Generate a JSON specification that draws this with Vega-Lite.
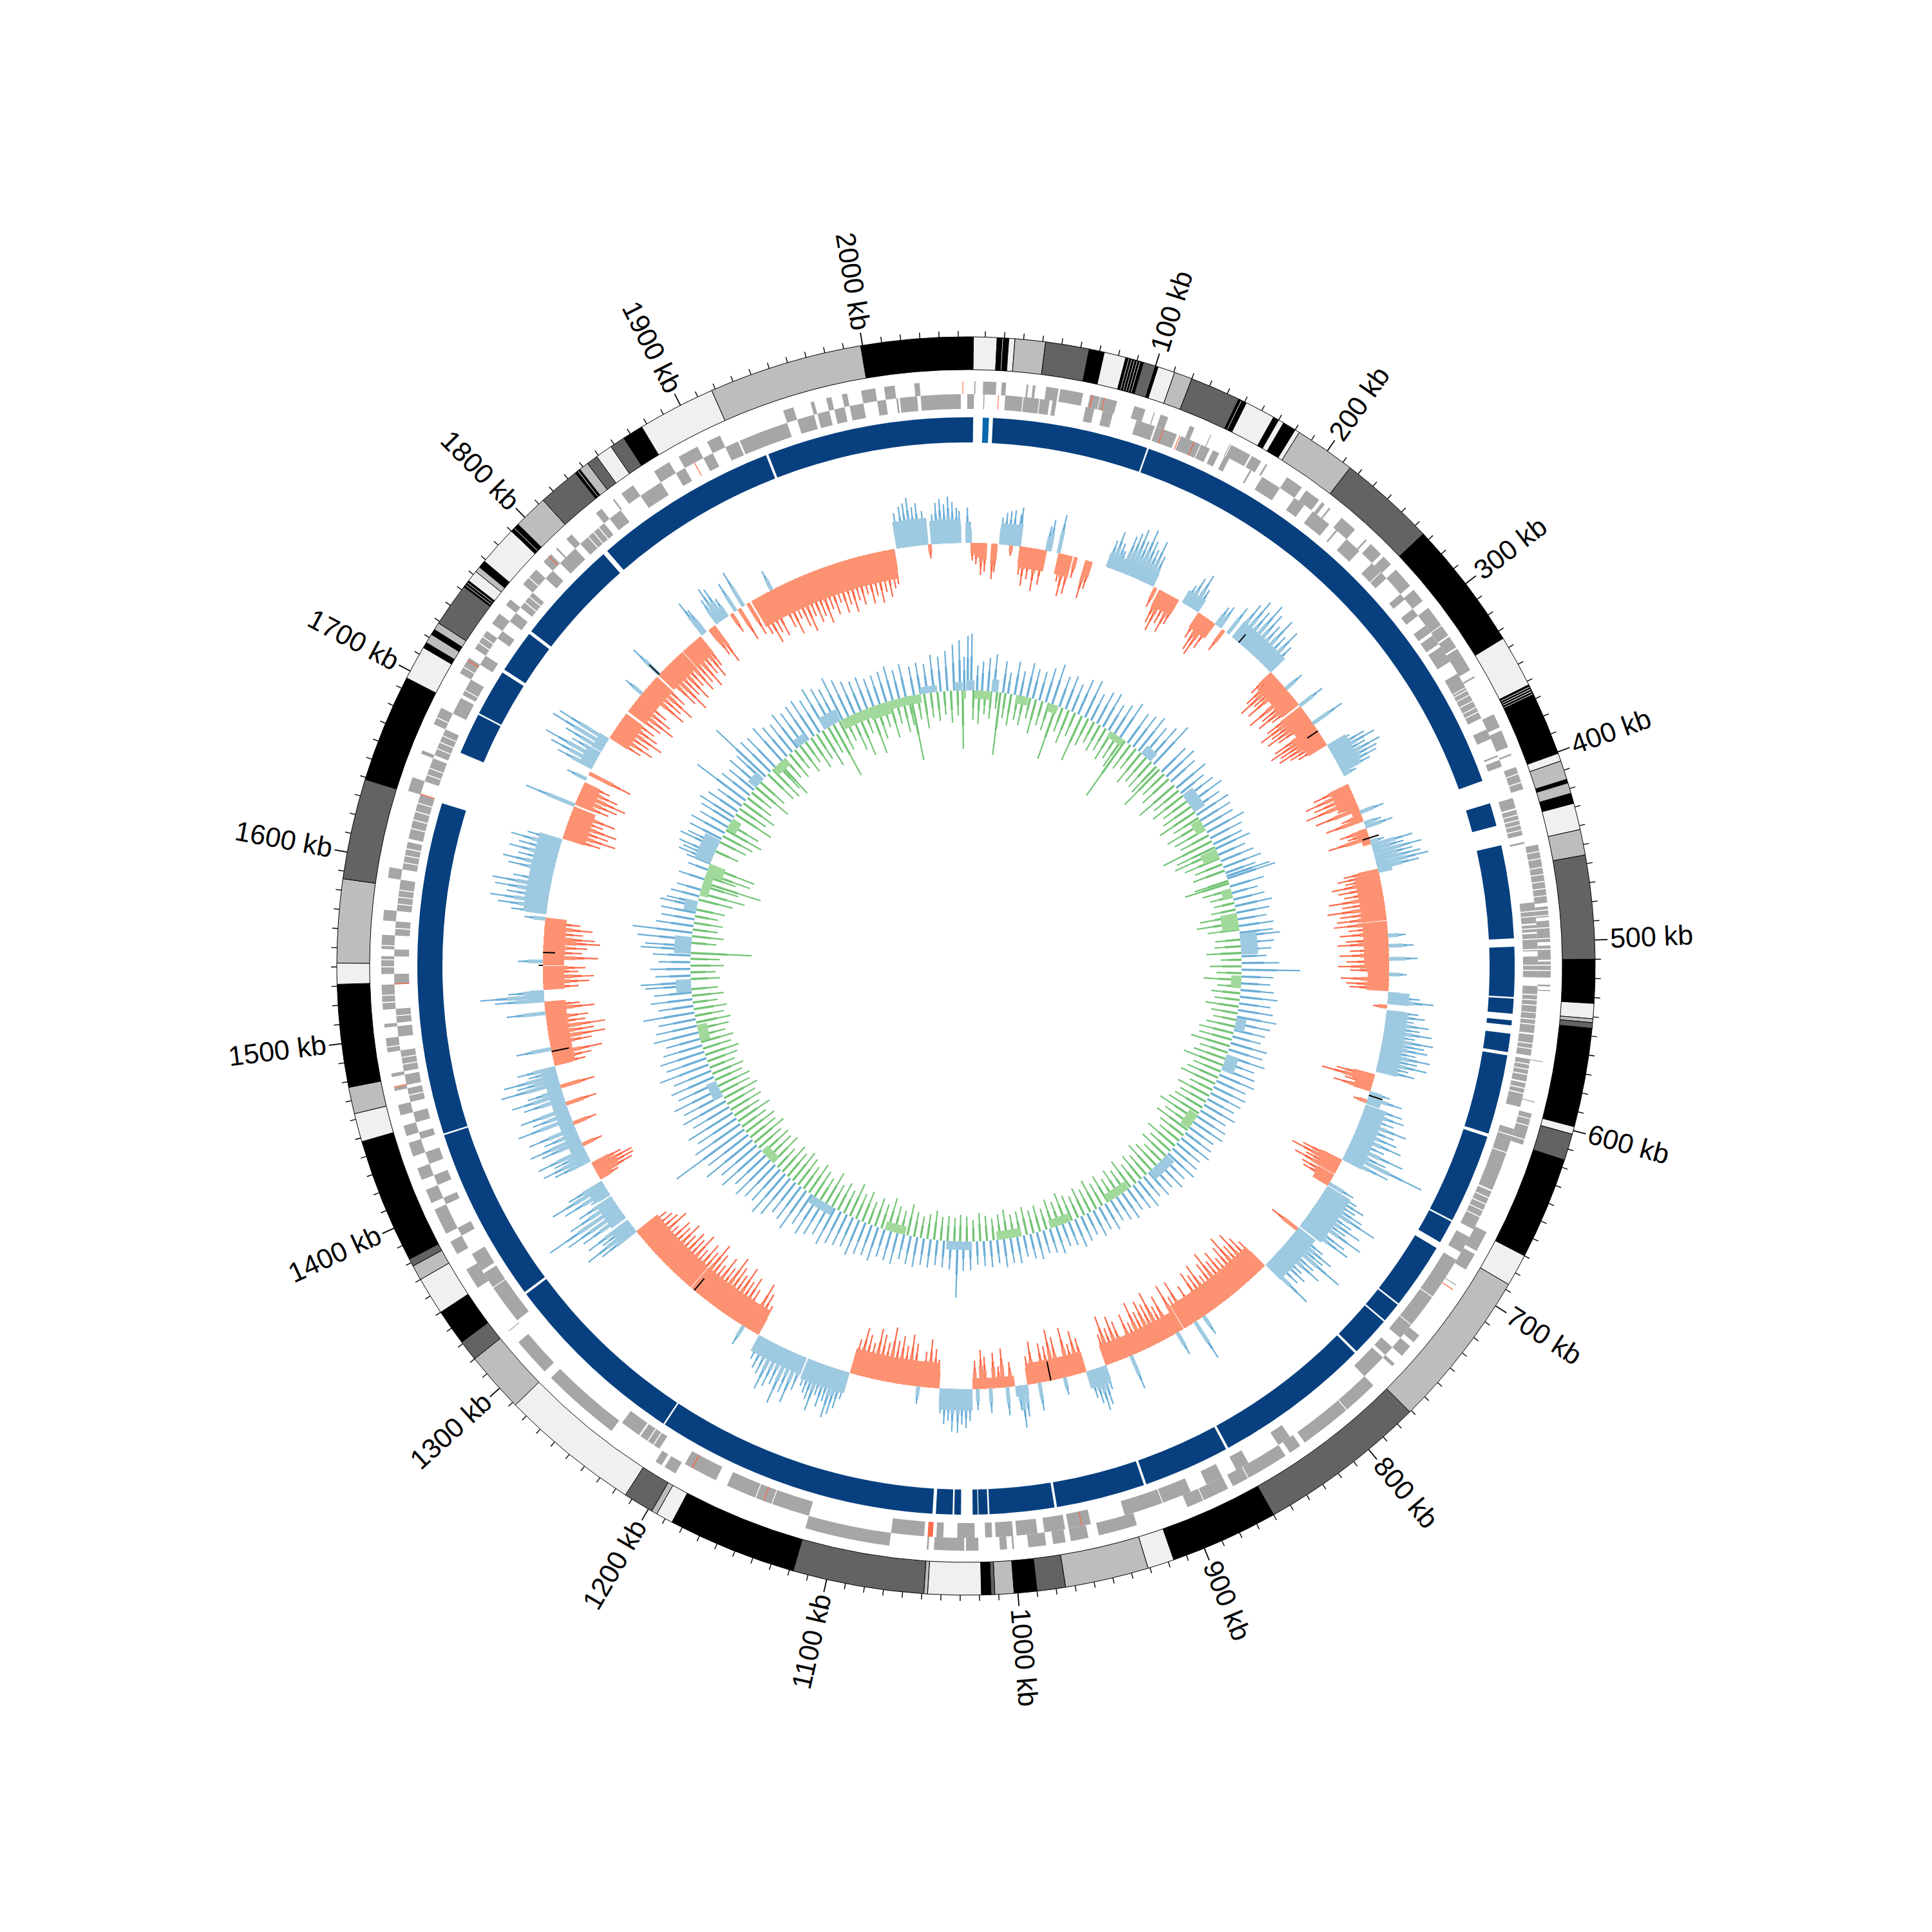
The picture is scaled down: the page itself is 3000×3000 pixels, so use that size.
{"$schema":"https://vega.github.io/schema/vega-lite/v6.json","width":3000,"height":3000,"autosize":{"type":"fit","contains":"padding"},"padding":0,"background":"white","config":{"view":{"stroke":null}},
"resolve":{"scale":{"radius":"independent","angle":"independent","color":"independent"}},
"datasets":{
"ticks":[10,20,30,40,50,60,70,80,90,110,120,130,140,150,160,170,180,190,210,220,230,240,250,260,270,280,290,310,320,330,340,350,360,370,380,390,410,420,430,440,450,460,470,480,490,510,520,530,540,550,560,570,580,590,610,620,630,640,650,660,670,680,690,710,720,730,740,750,760,770,780,790,810,820,830,840,850,860,870,880,890,910,920,930,940,950,960,970,980,990,1010,1020,1030,1040,1050,1060,1070,1080,1090,1110,1120,1130,1140,1150,1160,1170,1180,1190,1210,1220,1230,1240,1250,1260,1270,1280,1290,1310,1320,1330,1340,1350,1360,1370,1380,1390,1410,1420,1430,1440,1450,1460,1470,1480,1490,1510,1520,1530,1540,1550,1560,1570,1580,1590,1610,1620,1630,1640,1650,1660,1670,1680,1690,1710,1720,1730,1740,1750,1760,1770,1780,1790,1810,1820,1830,1840,1850,1860,1870,1880,1890,1910,1920,1930,1940,1950,1960,1970,1980,1990,2010,2020,2030,2040,2050],
"labels":[{"k":100,"t":"100 kb"},{"k":200,"t":"200 kb"},{"k":300,"t":"300 kb"},{"k":400,"t":"400 kb"},{"k":500,"t":"500 kb"},{"k":600,"t":"600 kb"},{"k":700,"t":"700 kb"},{"k":800,"t":"800 kb"},{"k":900,"t":"900 kb"},{"k":1000,"t":"1000 kb"},{"k":1100,"t":"1100 kb"},{"k":1200,"t":"1200 kb"},{"k":1300,"t":"1300 kb"},{"k":1400,"t":"1400 kb"},{"k":1500,"t":"1500 kb"},{"k":1600,"t":"1600 kb"},{"k":1700,"t":"1700 kb"},{"k":1800,"t":"1800 kb"},{"k":1900,"t":"1900 kb"},{"k":2000,"t":"2000 kb"}],
"band":[{"s":0,"e":3.9,"c":"k"},{"s":3.9,"e":16.2,"c":"l"},{"s":16.2,"e":22.3,"c":"k"},{"s":22.3,"e":25.5,"c":"l"},{"s":25.5,"e":41.5,"c":"g"},{"s":41.5,"e":64.5,"c":"d"},{"s":64.5,"e":72.5,"c":"k"},{"s":72.5,"e":84,"c":"l"},{"s":84,"e":93.5,"c":"k"},{"s":93.5,"e":100,"c":"d"},{"s":100,"e":101.5,"c":"k"},{"s":101.5,"e":110.5,"c":"l"},{"s":110.5,"e":120,"c":"g"},{"s":120,"e":146.6,"c":"d"},{"s":146.6,"e":151,"c":"k"},{"s":151,"e":167,"c":"l"},{"s":167,"e":170,"c":"k"},{"s":170,"e":173,"c":"l"},{"s":173,"e":180,"c":"k"},{"s":180,"e":182.5,"c":"l"},{"s":182.5,"e":214.7,"c":"g"},{"s":214.7,"e":266,"c":"d"},{"s":266,"e":334.5,"c":"k"},{"s":334.5,"e":362,"c":"l"},{"s":362,"e":368,"c":"k"},{"s":368,"e":400.8,"c":"k"},{"s":400.8,"e":405,"c":"l"},{"s":405,"e":415,"c":"g"},{"s":415,"e":417,"c":"k"},{"s":417,"e":422.6,"c":"g"},{"s":422.6,"e":428,"c":"k"},{"s":428,"e":442,"c":"l"},{"s":442,"e":455.5,"c":"g"},{"s":455.5,"e":510,"c":"d"},{"s":510,"e":533,"c":"k"},{"s":533,"e":541,"c":"l"},{"s":541,"e":543,"c":"g"},{"s":543,"e":546,"c":"d"},{"s":546,"e":598,"c":"k"},{"s":598,"e":602,"c":"l"},{"s":602,"e":616,"c":"d"},{"s":616,"e":670,"c":"k"},{"s":670,"e":687,"c":"l"},{"s":687,"e":771,"c":"g"},{"s":771,"e":860,"c":"d"},{"s":860,"e":917,"c":"k"},{"s":917,"e":931,"c":"l"},{"s":931,"e":975,"c":"g"},{"s":975,"e":990,"c":"d"},{"s":990,"e":1002,"c":"k"},{"s":1002,"e":1012,"c":"g"},{"s":1012,"e":1014,"c":"d"},{"s":1014,"e":1019,"c":"k"},{"s":1019,"e":1047,"c":"l"},{"s":1047,"e":1049,"c":"g"},{"s":1049,"e":1118,"c":"d"},{"s":1118,"e":1186,"c":"k"},{"s":1186,"e":1195,"c":"l"},{"s":1195,"e":1198,"c":"g"},{"s":1198,"e":1214,"c":"d"},{"s":1214,"e":1288,"c":"l"},{"s":1288,"e":1320,"c":"g"},{"s":1320,"e":1331,"c":"d"},{"s":1331,"e":1350,"c":"k"},{"s":1350,"e":1370,"c":"l"},{"s":1370,"e":1378,"c":"g"},{"s":1378,"e":1382,"c":"d"},{"s":1382,"e":1448,"c":"k"},{"s":1448,"e":1463,"c":"l"},{"s":1463,"e":1477,"c":"g"},{"s":1477,"e":1531,"c":"k"},{"s":1531,"e":1542,"c":"l"},{"s":1542,"e":1586,"c":"g"},{"s":1586,"e":1639,"c":"d"},{"s":1639,"e":1696,"c":"k"},{"s":1696,"e":1714,"c":"l"},{"s":1714,"e":1717,"c":"k"},{"s":1717,"e":1722,"c":"g"},{"s":1722,"e":1725,"c":"k"},{"s":1725,"e":1729,"c":"g"},{"s":1729,"e":1752,"c":"d"},{"s":1752,"e":1756,"c":"k"},{"s":1756,"e":1762,"c":"l"},{"s":1762,"e":1765,"c":"g"},{"s":1765,"e":1769,"c":"k"},{"s":1769,"e":1790,"c":"l"},{"s":1790,"e":1795,"c":"k"},{"s":1795,"e":1813,"c":"g"},{"s":1813,"e":1835,"c":"d"},{"s":1835,"e":1838,"c":"k"},{"s":1838,"e":1843,"c":"g"},{"s":1843,"e":1849,"c":"d"},{"s":1849,"e":1858,"c":"l"},{"s":1858,"e":1866,"c":"d"},{"s":1866,"e":1877,"c":"k"},{"s":1877,"e":1918,"c":"l"},{"s":1918,"e":1999,"c":"g"},{"s":1999,"e":2054,"c":"k"}],
"stripes":[{"s":19,"e":19.3},{"s":85.5,"e":85.8},{"s":87,"e":87.3},{"s":88.5,"e":88.8},{"s":90,"e":90.3},{"s":91.5,"e":91.8},{"s":148,"e":148.3},{"s":363,"e":363.4},{"s":364.3,"e":364.7},{"s":365.6,"e":366},{"s":367,"e":367.3},{"s":1753,"e":1753.3},{"s":1754.5,"e":1754.8},{"s":1792,"e":1792.3},{"s":1836.5,"e":1836.8}],
"blue":[{"s":0,"e":4.3},{"s":16.1,"e":110},{"s":111,"e":401},{"s":415,"e":429},{"s":441,"e":497},{"s":502,"e":532},{"s":533,"e":542},{"s":546,"e":549},{"s":554,"e":565},{"s":567,"e":615},{"s":617,"e":671},{"s":672,"e":686},{"s":690,"e":730},{"s":731,"e":743},{"s":744,"e":768},{"s":769.5,"e":864},{"s":865.5,"e":917.5},{"s":919,"e":972.5},{"s":974,"e":1013},{"s":1014,"e":1019.5},{"s":1020,"e":1023},{"s":1030,"e":1034},{"s":1035,"e":1045},{"s":1047,"e":1217},{"s":1218,"e":1331},{"s":1332.5,"e":1438},{"s":1439,"e":1639},{"s":1671,"e":1696},{"s":1697,"e":1725},{"s":1727,"e":1753},{"s":1755,"e":1818},{"s":1821,"e":1932},{"s":1933.5,"e":2054}],
"blue2":[{"s":10,"e":13.7}],
"geneF":[{"s":2025,"e":2028},{"s":4.6,"e":5.3},{"s":9.6,"e":17},{"s":20,"e":22.5},{"s":34,"e":35},{"s":37.5,"e":39},{"s":45,"e":52},{"s":53,"e":66},{"s":70,"e":75.6},{"s":76,"e":85.5},{"s":95.5,"e":102},{"s":107,"e":107.6},{"s":111,"e":115.5},{"s":128.5,"e":131.3},{"s":141,"e":141.5},{"s":153,"e":153.5},{"s":154,"e":166},{"s":167,"e":173},{"s":176,"e":177},{"s":190,"e":200},{"s":203,"e":212},{"s":214,"e":216},{"s":219,"e":220},{"s":228,"e":238},{"s":246,"e":247},{"s":250,"e":258},{"s":260,"e":266},{"s":270,"e":282},{"s":285,"e":293},{"s":298,"e":310},{"s":310.5,"e":317},{"s":318,"e":325},{"s":326,"e":340},{"s":344,"e":345},{"s":368,"e":376},{"s":378,"e":388},{"s":392,"e":393},{"s":400,"e":413},{"s":445,"e":478},{"s":480,"e":486},{"s":488,"e":500},{"s":502,"e":510},{"s":511,"e":520},{"s":524,"e":525},{"s":527,"e":527.6},{"s":567,"e":567.5},{"s":590,"e":590.5},{"s":597,"e":615},{"s":668,"e":680},{"s":682,"e":692},{"s":702,"e":702.5},{"s":737,"e":742},{"s":745,"e":752},{"s":758,"e":760},{"s":775,"e":795},{"s":795.5,"e":825},{"s":828,"e":835},{"s":838,"e":862},{"s":862.5,"e":872},{"s":875,"e":890},{"s":890.5,"e":900},{"s":930,"e":952},{"s":958,"e":968},{"s":971,"e":978},{"s":982,"e":992},{"s":1000,"e":1001},{"s":1004,"e":1008},{"s":1020,"e":1027},{"s":1028,"e":1045},{"s":1048,"e":1049},{"s":1070,"e":1118},{"s":1197,"e":1204},{"s":1206,"e":1210},{"s":1240,"e":1285},{"s":1290,"e":1312},{"s":1320,"e":1320.5},{"s":1350,"e":1362},{"s":1372,"e":1380},{"s":1385,"e":1400},{"s":1404,"e":1412},{"s":1418,"e":1425},{"s":1432,"e":1440},{"s":1444,"e":1450},{"s":1456,"e":1462},{"s":1470,"e":1472},{"s":1478,"e":1480},{"s":1492,"e":1500},{"s":1506,"e":1508},{"s":1516,"e":1530},{"s":1536,"e":1546},{"s":1550,"e":1558},{"s":1566,"e":1572},{"s":1590,"e":1596},{"s":1640,"e":1648},{"s":1662,"e":1664},{"s":1680,"e":1690},{"s":1712,"e":1722},{"s":1728,"e":1740},{"s":1745,"e":1752},{"s":1758,"e":1762},{"s":1773,"e":1784},{"s":1790,"e":1796},{"s":1800,"e":1801},{"s":1808,"e":1812},{"s":1830,"e":1834},{"s":1842,"e":1843},{"s":1848,"e":1856},{"s":1870,"e":1880},{"s":1886,"e":1898},{"s":1904,"e":1912},{"s":1950,"e":1956},{"s":1966,"e":1968},{"s":1975,"e":1978},{"s":1984,"e":1987},{"s":1995,"e":2003},{"s":2008,"e":2014}],
"geneR":[{"s":2016,"e":2026},{"s":2028,"e":2051},{"s":0.7,"e":4.6},{"s":10,"e":10.6},{"s":22.5,"e":32.5},{"s":33,"e":42},{"s":42.5,"e":48},{"s":49.7,"e":52},{"s":69,"e":74},{"s":79,"e":85},{"s":99,"e":110},{"s":111,"e":123.5},{"s":126,"e":138},{"s":138.5,"e":144},{"s":146,"e":150},{"s":153.5,"e":156.5},{"s":170,"e":171},{"s":178,"e":190},{"s":200,"e":207},{"s":213,"e":225},{"s":230,"e":231},{"s":238,"e":248},{"s":258,"e":265},{"s":265.5,"e":270},{"s":282,"e":286},{"s":293,"e":298},{"s":305,"e":310},{"s":312,"e":318},{"s":320,"e":330},{"s":338,"e":347},{"s":347.5,"e":367},{"s":374,"e":380},{"s":390,"e":391},{"s":393,"e":397},{"s":416,"e":422},{"s":423,"e":438},{"s":442,"e":443},{"s":477,"e":489},{"s":490,"e":494},{"s":495,"e":505},{"s":508,"e":520},{"s":525,"e":540},{"s":540.5,"e":552},{"s":553,"e":565},{"s":567,"e":580},{"s":581,"e":595},{"s":608,"e":622},{"s":622.5,"e":645},{"s":646,"e":670},{"s":675,"e":685},{"s":690,"e":715},{"s":715.5,"e":735},{"s":735.5,"e":745},{"s":752,"e":758},{"s":760,"e":775},{"s":830,"e":838},{"s":858,"e":866},{"s":875,"e":885},{"s":895,"e":912},{"s":912.5,"e":935},{"s":955,"e":968},{"s":970,"e":982},{"s":986,"e":998},{"s":1000,"e":1010},{"s":1012,"e":1016},{"s":1022,"e":1032},{"s":1040,"e":1044},{"s":1051,"e":1070},{"s":1118,"e":1140},{"s":1140.5,"e":1150},{"s":1150.5,"e":1168},{"s":1175,"e":1195},{"s":1212,"e":1225},{"s":1226,"e":1238},{"s":1322,"e":1345},{"s":1345.5,"e":1355},{"s":1357,"e":1368},{"s":1380,"e":1385},{"s":1400,"e":1404},{"s":1412,"e":1418},{"s":1425,"e":1432},{"s":1440,"e":1444},{"s":1450,"e":1456},{"s":1462,"e":1470},{"s":1472,"e":1478},{"s":1480,"e":1492},{"s":1500,"e":1506},{"s":1508,"e":1516},{"s":1530,"e":1536},{"s":1546,"e":1550},{"s":1558,"e":1566},{"s":1572,"e":1590},{"s":1596,"e":1612},{"s":1614,"e":1640},{"s":1648,"e":1662},{"s":1664,"e":1680},{"s":1690,"e":1700},{"s":1702,"e":1712},{"s":1722,"e":1728},{"s":1740,"e":1745},{"s":1752,"e":1758},{"s":1762,"e":1773},{"s":1784,"e":1790},{"s":1796,"e":1808},{"s":1812,"e":1830},{"s":1834,"e":1842},{"s":1856,"e":1870},{"s":1880,"e":1886},{"s":1898,"e":1904},{"s":1912,"e":1920},{"s":1921,"e":1950},{"s":1956,"e":1966},{"s":1968,"e":1975},{"s":1978,"e":1984},{"s":1987,"e":1995},{"s":2003,"e":2008},{"s":2014,"e":2015}],
"geneGap":[349,352,356,360,363,404,409,426,429,432,435,449,453,458,462,466,470,474,482,485,492,498,504,513,516,530,533,536,544,547,558,561,570,573,576,584,587,600,604,612,650,654,658,662,1216,1220,1466,1484,1488,1495,1512,1520,1524,1540,1544,1552,1562,1576,1580,1584,1600,1604,1608,1620,1625,1630,1635,1652,1656,1668,1672,1676,1684,1705,1716,1732,1736,1766,1770,1778,1818,1822,1826],
"geneRedF":[{"s":71,"e":71.6},{"s":78,"e":78.5},{"s":705,"e":705.5},{"s":1472,"e":1472.6},{"s":1720,"e":1720.6},{"s":1794,"e":1794.5},{"s":2052,"e":2052.4}],
"geneRedR":[{"s":18.4,"e":18.8},{"s":115,"e":115.5},{"s":125,"e":125.5},{"s":134,"e":134.5},{"s":1046,"e":1049},{"s":1145,"e":1145.5},{"s":1190,"e":1190.6},{"s":960,"e":960.5},{"s":1530,"e":1530.6},{"s":1640,"e":1640.6},{"s":1892,"e":1892.5}],
"gcFill":[{"s":2000,"e":2025,"v":0.38},{"s":2027,"e":2050,"v":0.33},{"s":1,"e":3.5,"v":0.25},{"s":4,"e":7,"v":-0.12},{"s":7,"e":16,"v":-0.2},{"s":20,"e":24.5,"v":-0.15},{"s":26,"e":42,"v":0.3},{"s":42,"e":63,"v":-0.3},{"s":72,"e":83,"v":-0.3},{"s":94,"e":99,"v":-0.1},{"s":110,"e":150,"v":0.2},{"s":155,"e":172,"v":-0.25},{"s":175,"e":190,"v":0.2},{"s":190,"e":206,"v":-0.25},{"s":222,"e":263,"v":0.28},{"s":267,"e":296,"v":-0.3},{"s":298,"e":334,"v":-0.3},{"s":334,"e":358,"v":0.3},{"s":368,"e":386,"v":-0.28},{"s":386,"e":399,"v":-0.12},{"s":405,"e":418,"v":-0.12},{"s":418,"e":425,"v":0.12},{"s":427,"e":433,"v":0.15},{"s":434,"e":441,"v":0.2},{"s":441,"e":478,"v":-0.35},{"s":479,"e":513,"v":-0.35},{"s":514,"e":533,"v":-0.3},{"s":534,"e":543,"v":0.3},{"s":548,"e":596,"v":0.3},{"s":598,"e":606,"v":-0.3},{"s":607,"e":612,"v":-0.25},{"s":616,"e":622,"v":0.2},{"s":623,"e":669,"v":0.3},{"s":669,"e":680,"v":-0.3},{"s":682,"e":692,"v":-0.25},{"s":692,"e":730,"v":0.38},{"s":731,"e":770,"v":0.3},{"s":771,"e":850,"v":-0.38},{"s":851,"e":917,"v":-0.3},{"s":917,"e":933,"v":0.25},{"s":933,"e":979,"v":-0.3},{"s":979,"e":989,"v":0.15},{"s":989,"e":1022,"v":-0.15},{"s":1022,"e":1047,"v":0.3},{"s":1048,"e":1118,"v":-0.36},{"s":1118,"e":1152,"v":0.3},{"s":1153,"e":1194,"v":0.25},{"s":1195,"e":1258,"v":-0.38},{"s":1259,"e":1319,"v":-0.38},{"s":1320,"e":1330,"v":0.3},{"s":1332,"e":1352,"v":0.25},{"s":1354,"e":1366,"v":0.25},{"s":1369,"e":1382,"v":-0.2},{"s":1384,"e":1461,"v":0.2},{"s":1463,"e":1513,"v":-0.3},{"s":1513,"e":1522,"v":0.2},{"s":1522,"e":1540,"v":-0.3},{"s":1541,"e":1578,"v":-0.3},{"s":1581,"e":1640,"v":0.33},{"s":1641,"e":1667,"v":-0.33},{"s":1669,"e":1685,"v":-0.25},{"s":1700,"e":1712,"v":0.2},{"s":1714,"e":1726,"v":0.15},{"s":1727,"e":1749,"v":-0.3},{"s":1752,"e":1786,"v":-0.3},{"s":1788,"e":1814,"v":-0.3},{"s":1815,"e":1832,"v":-0.3},{"s":1835,"e":1838,"v":0.2},{"s":1840,"e":1846,"v":-0.2},{"s":1848,"e":1858,"v":0.15},{"s":1880,"e":1930,"v":-0.42},{"s":1931,"e":1998,"v":-0.42}],
"gc":[{"k":2002,"v":0.5},{"k":2006,"v":0.58},{"k":2009,"v":0.62},{"k":2012,"v":0.69},{"k":2015,"v":0.55},{"k":2018,"v":0.6},{"k":2022,"v":0.48},{"k":2026,"v":-0.2},{"k":2029,"v":0.42},{"k":2032,"v":0.58},{"k":2035,"v":0.63},{"k":2038,"v":0.55},{"k":2041,"v":0.66},{"k":2044,"v":0.58},{"k":2047,"v":0.5},{"k":2049,"v":0.45},{"k":1,"v":0.5},{"k":3,"v":0.3},{"k":5,"v":-0.25},{"k":8,"v":-0.3},{"k":10,"v":-0.1},{"k":12,"v":-0.45},{"k":15,"v":-0.4},{"k":21,"v":-0.5},{"k":23,"v":-0.4},{"k":27,"v":0.38},{"k":30,"v":0.45},{"k":33,"v":0.48},{"k":35,"v":-0.15},{"k":36,"v":0.5},{"k":38,"v":0.3},{"k":40,"v":0.45},{"k":41,"v":0.55},{"k":43,"v":-0.4},{"k":46,"v":-0.55},{"k":50,"v":-0.45},{"k":55,"v":-0.6},{"k":60,"v":-0.5},{"k":63,"v":0.35},{"k":65,"v":0.45},{"k":72,"v":0.55},{"k":75,"v":-0.4},{"k":78,"v":-0.6},{"k":82,"v":-0.55},{"k":86,"v":-0.3},{"k":95,"v":-0.55},{"k":98,"v":-0.4},{"k":112,"v":0.4},{"k":115,"v":0.55},{"k":118,"v":0.4},{"k":120,"v":0.3},{"k":124,"v":0.55},{"k":127,"v":0.62},{"k":130,"v":0.7},{"k":133,"v":0.55},{"k":136,"v":0.75},{"k":139,"v":0.6},{"k":142,"v":0.5},{"k":145,"v":0.65},{"k":148,"v":0.45},{"k":152,"v":-0.3},{"k":157,"v":-0.5},{"k":160,"v":-0.6},{"k":164,"v":-0.45},{"k":168,"v":-0.55},{"k":171,"v":-0.4},{"k":178,"v":0.3},{"k":181,"v":0.45},{"k":185,"v":0.55},{"k":188,"v":0.35},{"k":192,"v":-0.4},{"k":196,"v":-0.55},{"k":199,"v":-0.6},{"k":203,"v":-0.45},{"k":207,"v":0.3},{"k":210,"v":0.35},{"k":214,"v":-0.35},{"k":218,"v":0.45},{"k":224,"v":0.6},{"k":228,"v":0.72},{"k":232,"v":0.6},{"k":236,"v":0.78},{"k":240,"v":0.68},{"k":244,"v":0.55},{"k":248,"v":0.72},{"k":252,"v":0.5},{"k":256,"v":0.65},{"k":260,"v":0.45},{"k":264,"v":-0.4},{"k":266,"v":-0.3},{"k":268,"v":-0.55},{"k":271,"v":-0.7},{"k":274,"v":-0.5},{"k":277,"v":-0.65},{"k":280,"v":0.3},{"k":284,"v":-0.72},{"k":288,"v":-0.55},{"k":291,"v":-0.65},{"k":294,"v":-0.45},{"k":297,"v":0.4},{"k":299,"v":-0.6},{"k":302,"v":-0.75},{"k":305,"v":-0.6},{"k":308,"v":-0.7},{"k":311,"v":-0.55},{"k":314,"v":0.5},{"k":317,"v":-0.68},{"k":320,"v":-0.78},{"k":323,"v":-0.65},{"k":326,"v":-0.7},{"k":329,"v":-0.55},{"k":332,"v":-0.45},{"k":336,"v":0.35},{"k":339,"v":0.55},{"k":342,"v":0.68},{"k":345,"v":0.5},{"k":348,"v":0.7},{"k":351,"v":0.62},{"k":354,"v":0.58},{"k":357,"v":0.45},{"k":360,"v":0.2},{"k":370,"v":-0.55},{"k":374,"v":-0.7},{"k":378,"v":-0.6},{"k":382,"v":-0.75},{"k":386,"v":-0.3},{"k":389,"v":-0.65},{"k":392,"v":0.35},{"k":395,"v":-0.3},{"k":398,"v":-0.55},{"k":401,"v":0.25},{"k":404,"v":0.4},{"k":407,"v":-0.4},{"k":410,"v":-0.3},{"k":413,"v":-0.6},{"k":416,"v":0.2},{"k":419,"v":0.6},{"k":422,"v":0.45},{"k":425,"v":0.7},{"k":428,"v":0.55},{"k":431,"v":0.65},{"k":434,"v":0.75},{"k":437,"v":0.6},{"k":439,"v":-0.5},{"k":442,"v":-0.6},{"k":445,"v":-0.5},{"k":448,"v":-0.7},{"k":452,"v":-0.62},{"k":456,"v":-0.55},{"k":460,"v":-0.78},{"k":464,"v":-0.6},{"k":468,"v":-0.82},{"k":472,"v":-0.65},{"k":476,"v":-0.7},{"k":480,"v":-0.75},{"k":484,"v":-0.55},{"k":488,"v":-0.68},{"k":490,"v":0.25},{"k":493,"v":-0.6},{"k":496,"v":-0.72},{"k":498,"v":0.35},{"k":501,"v":-0.55},{"k":505,"v":-0.7},{"k":508,"v":0.4},{"k":510,"v":-0.6},{"k":514,"v":-0.72},{"k":517,"v":-0.55},{"k":520,"v":0.25},{"k":524,"v":-0.68},{"k":528,"v":-0.6},{"k":531,"v":-0.55},{"k":535,"v":0.3},{"k":538,"v":0.45},{"k":541,"v":0.65},{"k":545,"v":-0.2},{"k":549,"v":0.45},{"k":552,"v":0.55},{"k":555,"v":0.4},{"k":558,"v":0.62},{"k":561,"v":0.5},{"k":564,"v":0.68},{"k":567,"v":0.45},{"k":570,"v":0.72},{"k":573,"v":0.6},{"k":576,"v":0.66},{"k":579,"v":0.5},{"k":582,"v":0.72},{"k":585,"v":0.55},{"k":588,"v":0.7},{"k":591,"v":0.45},{"k":594,"v":0.55},{"k":600,"v":-0.55},{"k":603,"v":-0.75},{"k":606,"v":-0.4},{"k":610,"v":-0.55},{"k":613,"v":0.3},{"k":617,"v":0.5},{"k":620,"v":-0.2},{"k":624,"v":0.55},{"k":628,"v":0.6},{"k":632,"v":0.48},{"k":636,"v":0.7},{"k":640,"v":0.55},{"k":644,"v":0.62},{"k":648,"v":0.72},{"k":652,"v":0.5},{"k":656,"v":0.82},{"k":660,"v":0.6},{"k":663,"v":1.19},{"k":667,"v":0.7},{"k":671,"v":-0.6},{"k":674,"v":-0.75},{"k":677,"v":-0.5},{"k":680,"v":-0.65},{"k":684,"v":-0.5},{"k":687,"v":-0.45},{"k":690,"v":0.4},{"k":694,"v":0.5},{"k":697,"v":0.65},{"k":700,"v":0.55},{"k":703,"v":0.7},{"k":706,"v":0.95},{"k":710,"v":0.62},{"k":713,"v":0.8},{"k":716,"v":0.6},{"k":719,"v":0.9},{"k":724,"v":0.7},{"k":727,"v":0.8},{"k":733,"v":-0.45},{"k":736,"v":0.5},{"k":739,"v":0.7},{"k":742,"v":0.6},{"k":745,"v":0.95},{"k":749,"v":0.55},{"k":752,"v":0.7},{"k":756,"v":0.45},{"k":759,"v":0.56},{"k":763,"v":0.5},{"k":768,"v":0.78},{"k":772,"v":-0.5},{"k":776,"v":-0.62},{"k":780,"v":-0.75},{"k":784,"v":-0.6},{"k":788,"v":-0.8},{"k":792,"v":-0.68},{"k":796,"v":-0.55},{"k":800,"v":-0.7},{"k":804,"v":-0.6},{"k":808,"v":-0.78},{"k":812,"v":-0.65},{"k":816,"v":-0.5},{"k":820,"v":-0.72},{"k":824,"v":-0.6},{"k":828,"v":-0.68},{"k":832,"v":0.3},{"k":836,"v":-0.55},{"k":840,"v":0.6},{"k":844,"v":-0.7},{"k":848,"v":-0.5},{"k":852,"v":-0.72},{"k":856,"v":0.35},{"k":860,"v":-0.62},{"k":864,"v":-0.5},{"k":868,"v":-0.75},{"k":872,"v":-0.6},{"k":876,"v":-0.68},{"k":880,"v":-0.55},{"k":884,"v":-0.72},{"k":888,"v":-0.45},{"k":892,"v":-0.6},{"k":896,"v":0.5},{"k":900,"v":-0.55},{"k":904,"v":-0.65},{"k":908,"v":-0.5},{"k":912,"v":-0.7},{"k":915,"v":-0.45},{"k":918,"v":0.35},{"k":921,"v":0.55},{"k":924,"v":0.62},{"k":927,"v":0.5},{"k":930,"v":0.4},{"k":934,"v":-0.5},{"k":938,"v":-0.62},{"k":942,"v":-0.45},{"k":946,"v":-0.7},{"k":950,"v":0.25},{"k":954,"v":-0.6},{"k":958,"v":-0.72},{"k":962,"v":-0.5},{"k":966,"v":-0.55},{"k":970,"v":0.4},{"k":974,"v":-0.6},{"k":978,"v":-0.4},{"k":981,"v":0.45},{"k":984,"v":0.6},{"k":986,"v":0.35},{"k":992,"v":-0.35},{"k":995,"v":0.4},{"k":998,"v":-0.55},{"k":1001,"v":-0.3},{"k":1005,"v":-0.5},{"k":1008,"v":0.35},{"k":1012,"v":-0.45},{"k":1015,"v":-0.55},{"k":1018,"v":0.3},{"k":1020,"v":-0.4},{"k":1024,"v":0.45},{"k":1027,"v":0.55},{"k":1030,"v":0.5},{"k":1033,"v":0.62},{"k":1037,"v":0.6},{"k":1040,"v":0.45},{"k":1043,"v":0.5},{"k":1046,"v":0.35},{"k":1049,"v":-0.4},{"k":1052,"v":-0.55},{"k":1056,"v":-0.68},{"k":1060,"v":-0.5},{"k":1064,"v":0.25},{"k":1068,"v":-0.6},{"k":1072,"v":-0.72},{"k":1076,"v":-0.55},{"k":1080,"v":-0.68},{"k":1084,"v":-0.6},{"k":1088,"v":-0.78},{"k":1092,"v":-0.55},{"k":1096,"v":-0.65},{"k":1100,"v":-0.72},{"k":1104,"v":-0.5},{"k":1108,"v":-0.6},{"k":1112,"v":-0.68},{"k":1116,"v":-0.5},{"k":1120,"v":0.4},{"k":1123,"v":0.55},{"k":1126,"v":0.65},{"k":1129,"v":0.72},{"k":1132,"v":0.5},{"k":1135,"v":0.6},{"k":1138,"v":0.45},{"k":1141,"v":0.7},{"k":1144,"v":0.55},{"k":1147,"v":0.48},{"k":1150,"v":0.4},{"k":1155,"v":0.5},{"k":1159,"v":0.72},{"k":1163,"v":0.6},{"k":1167,"v":0.8},{"k":1171,"v":0.55},{"k":1175,"v":0.62},{"k":1179,"v":0.7},{"k":1183,"v":0.5},{"k":1187,"v":0.45},{"k":1191,"v":0.35},{"k":1196,"v":-0.45},{"k":1200,"v":-0.6},{"k":1204,"v":-0.72},{"k":1208,"v":0.3},{"k":1212,"v":-0.55},{"k":1216,"v":-0.7},{"k":1220,"v":-0.6},{"k":1224,"v":-0.78},{"k":1228,"v":-0.62},{"k":1232,"v":-0.7},{"k":1236,"v":-0.82},{"k":1240,"v":-0.6},{"k":1244,"v":-0.72},{"k":1248,"v":-0.55},{"k":1252,"v":-0.68},{"k":1256,"v":-0.8},{"k":1260,"v":-0.62},{"k":1264,"v":-0.7},{"k":1268,"v":-0.55},{"k":1272,"v":-0.75},{"k":1276,"v":-0.62},{"k":1280,"v":-0.68},{"k":1284,"v":-0.58},{"k":1288,"v":-0.72},{"k":1292,"v":-0.6},{"k":1296,"v":-0.65},{"k":1300,"v":-0.5},{"k":1304,"v":-0.7},{"k":1308,"v":-0.6},{"k":1312,"v":-0.55},{"k":1316,"v":-0.5},{"k":1320,"v":0.6},{"k":1323,"v":0.8},{"k":1326,"v":0.5},{"k":1329,"v":0.7},{"k":1335,"v":0.7},{"k":1339,"v":0.9},{"k":1343,"v":1.16},{"k":1347,"v":0.75},{"k":1351,"v":0.55},{"k":1355,"v":0.3},{"k":1358,"v":0.7},{"k":1362,"v":0.85},{"k":1365,"v":0.55},{"k":1369,"v":-0.3},{"k":1372,"v":-0.55},{"k":1375,"v":-0.6},{"k":1378,"v":-0.6},{"k":1381,"v":-0.45},{"k":1385,"v":0.55},{"k":1388,"v":0.7},{"k":1391,"v":0.5},{"k":1394,"v":0.72},{"k":1398,"v":-0.3},{"k":1401,"v":0.6},{"k":1404,"v":0.75},{"k":1408,"v":0.5},{"k":1412,"v":0.7},{"k":1416,"v":-0.35},{"k":1420,"v":0.8},{"k":1424,"v":0.55},{"k":1428,"v":0.7},{"k":1432,"v":-0.45},{"k":1436,"v":0.6},{"k":1440,"v":0.75},{"k":1443,"v":0.5},{"k":1446,"v":-0.5},{"k":1449,"v":0.85},{"k":1452,"v":0.6},{"k":1455,"v":0.78},{"k":1458,"v":0.4},{"k":1461,"v":0.55},{"k":1464,"v":-0.45},{"k":1468,"v":-0.55},{"k":1472,"v":-0.72},{"k":1476,"v":0.5},{"k":1480,"v":-0.6},{"k":1484,"v":-0.8},{"k":1488,"v":-0.65},{"k":1492,"v":-0.82},{"k":1496,"v":-0.55},{"k":1500,"v":-0.6},{"k":1504,"v":0.55},{"k":1507,"v":-0.7},{"k":1510,"v":-0.5},{"k":1514,"v":0.7},{"k":1517,"v":0.9},{"k":1520,"v":0.5},{"k":1524,"v":-0.5},{"k":1528,"v":-0.65},{"k":1532,"v":-0.72},{"k":1536,"v":-0.5},{"k":1539,"v":-0.6},{"k":1544,"v":0.35},{"k":1547,"v":-0.78},{"k":1551,"v":-0.55},{"k":1555,"v":-0.62},{"k":1559,"v":-0.8},{"k":1562,"v":-0.72},{"k":1566,"v":-0.55},{"k":1570,"v":-0.68},{"k":1574,"v":-0.5},{"k":1577,"v":0.3},{"k":1582,"v":0.5},{"k":1586,"v":0.7},{"k":1590,"v":0.82},{"k":1594,"v":0.6},{"k":1598,"v":0.78},{"k":1602,"v":0.83},{"k":1606,"v":0.55},{"k":1610,"v":0.3},{"k":1614,"v":0.65},{"k":1618,"v":0.75},{"k":1622,"v":0.55},{"k":1626,"v":0.7},{"k":1630,"v":0.58},{"k":1634,"v":0.72},{"k":1638,"v":0.5},{"k":1642,"v":-0.55},{"k":1646,"v":-0.75},{"k":1650,"v":-0.62},{"k":1654,"v":-0.72},{"k":1658,"v":-0.5},{"k":1662,"v":-0.65},{"k":1668,"v":0.74},{"k":1670,"v":-0.5},{"k":1674,"v":-0.6},{"k":1678,"v":-0.7},{"k":1682,"v":-0.55},{"k":1686,"v":-0.4},{"k":1690,"v":0.3},{"k":1695,"v":-0.65},{"k":1700,"v":0.55},{"k":1704,"v":0.7},{"k":1708,"v":0.83},{"k":1712,"v":0.45},{"k":1716,"v":0.6},{"k":1720,"v":0.86},{"k":1724,"v":0.8},{"k":1728,"v":-0.5},{"k":1732,"v":-0.65},{"k":1736,"v":-0.55},{"k":1740,"v":-0.72},{"k":1744,"v":-0.6},{"k":1748,"v":-0.5},{"k":1753,"v":-0.55},{"k":1757,"v":-0.72},{"k":1761,"v":-0.62},{"k":1765,"v":-0.5},{"k":1769,"v":0.3},{"k":1773,"v":-0.7},{"k":1777,"v":-0.6},{"k":1781,"v":-0.75},{"k":1785,"v":-0.55},{"k":1789,"v":0.5},{"k":1792,"v":-0.65},{"k":1796,"v":-0.8},{"k":1800,"v":-0.6},{"k":1804,"v":-0.72},{"k":1808,"v":-0.55},{"k":1812,"v":-0.68},{"k":1816,"v":-0.6},{"k":1820,"v":-0.72},{"k":1824,"v":-0.55},{"k":1828,"v":-0.65},{"k":1831,"v":-0.5},{"k":1835,"v":0.55},{"k":1837,"v":0.4},{"k":1842,"v":-0.45},{"k":1845,"v":-0.6},{"k":1849,"v":0.4},{"k":1852,"v":0.55},{"k":1855,"v":0.5},{"k":1858,"v":0.3},{"k":1862,"v":-0.3},{"k":1866,"v":0.45},{"k":1869,"v":-0.5},{"k":1873,"v":0.55},{"k":1877,"v":-0.5},{"k":1882,"v":-0.55},{"k":1886,"v":-0.72},{"k":1890,"v":-0.6},{"k":1894,"v":-0.68},{"k":1898,"v":0.3},{"k":1902,"v":-0.62},{"k":1906,"v":-0.75},{"k":1910,"v":-0.55},{"k":1914,"v":-0.7},{"k":1918,"v":-0.8},{"k":1922,"v":-0.6},{"k":1926,"v":-0.72},{"k":1930,"v":-0.65},{"k":1934,"v":-0.78},{"k":1938,"v":-0.6},{"k":1942,"v":-0.7},{"k":1946,"v":-0.55},{"k":1950,"v":-0.72},{"k":1954,"v":-0.62},{"k":1958,"v":-0.75},{"k":1962,"v":-0.6},{"k":1966,"v":-0.68},{"k":1970,"v":-0.55},{"k":1974,"v":-0.7},{"k":1978,"v":-0.6},{"k":1982,"v":-0.72},{"k":1986,"v":-0.58},{"k":1990,"v":-0.66},{"k":1994,"v":-0.55},{"k":1997,"v":-0.5}],
"gcBlack":[{"k":413,"a":-0.1,"b":0.14},{"k":615,"a":0,"b":0.2},{"k":1474,"a":0,"b":-0.25},{"k":1551,"a":0,"b":-0.17},{"k":1541,"a":0,"b":0.06},{"k":1789,"a":0,"b":0.2},{"k":1255,"a":0,"b":-0.22},{"k":229,"a":0,"b":0.15},{"k":321,"a":0,"b":-0.18},{"k":961,"a":0,"b":-0.27}],
"inFill":[{"s":1878,"e":1900,"v":0.15},{"s":1900,"e":1935,"v":-0.12},{"s":1935,"e":1960,"v":-0.15},{"s":1960,"e":2000,"v":-0.1},{"s":2000,"e":2020,"v":0.08},{"s":2040,"e":2050,"v":0.1},{"s":2050,"e":2054,"v":-0.1},{"s":0,"e":10,"v":0.12},{"s":10,"e":30,"v":-0.1},{"s":30,"e":38,"v":0.15},{"s":60,"e":75,"v":-0.1},{"s":100,"e":112,"v":-0.1},{"s":180,"e":200,"v":-0.08},{"s":225,"e":240,"v":0.12},{"s":295,"e":320,"v":0.15},{"s":330,"e":345,"v":-0.12},{"s":370,"e":382,"v":-0.2},{"s":420,"e":432,"v":-0.12},{"s":450,"e":470,"v":-0.2},{"s":475,"e":500,"v":0.2},{"s":525,"e":540,"v":-0.12},{"s":575,"e":590,"v":0.12},{"s":620,"e":640,"v":0.15},{"s":700,"e":720,"v":-0.12},{"s":760,"e":790,"v":0.12},{"s":820,"e":850,"v":-0.1},{"s":900,"e":925,"v":-0.1},{"s":960,"e":990,"v":-0.1},{"s":1020,"e":1050,"v":0.1},{"s":1100,"e":1125,"v":-0.1},{"s":1190,"e":1220,"v":0.1},{"s":1280,"e":1300,"v":-0.1},{"s":1380,"e":1400,"v":0.12},{"s":1450,"e":1470,"v":-0.12},{"s":1510,"e":1525,"v":0.18},{"s":1555,"e":1575,"v":0.2},{"s":1605,"e":1618,"v":0.15},{"s":1625,"e":1650,"v":-0.1},{"s":1650,"e":1665,"v":-0.2},{"s":1665,"e":1695,"v":0.2},{"s":1710,"e":1725,"v":-0.12},{"s":1770,"e":1785,"v":0.12},{"s":1800,"e":1820,"v":-0.1},{"s":1840,"e":1855,"v":0.1}],
"inner":[{"k":2,"v":0.65},{"k":6,"v":0.68},{"k":9,"v":-0.35},{"k":13,"v":0.3},{"k":16,"v":-0.4},{"k":19,"v":0.35},{"k":23,"v":-0.28},{"k":26,"v":0.4},{"k":30,"v":-0.33},{"k":33,"v":0.45},{"k":37,"v":-0.2},{"k":41,"v":-0.75},{"k":44,"v":0.38},{"k":47,"v":-0.3},{"k":50,"v":0.25},{"k":54,"v":-0.38},{"k":58,"v":0.4},{"k":62,"v":-0.3},{"k":65,"v":0.3},{"k":69,"v":-0.35},{"k":73,"v":0.42},{"k":77,"v":-0.25},{"k":80,"v":0.36},{"k":84,"v":-0.42},{"k":88,"v":0.35},{"k":92,"v":-0.3},{"k":96,"v":0.42},{"k":100,"v":-0.34},{"k":104,"v":0.5},{"k":109,"v":-0.67},{"k":113,"v":0.38},{"k":117,"v":-0.3},{"k":121,"v":0.42},{"k":125,"v":-0.42},{"k":129,"v":0.35},{"k":133,"v":-0.3},{"k":137,"v":0.45},{"k":142,"v":-0.58},{"k":146,"v":0.48},{"k":150,"v":-0.35},{"k":154,"v":0.35},{"k":158,"v":-0.28},{"k":162,"v":0.42},{"k":166,"v":-0.35},{"k":170,"v":0.45},{"k":174,"v":-0.3},{"k":178,"v":0.35},{"k":182,"v":-0.38},{"k":186,"v":0.4},{"k":190,"v":-0.32},{"k":194,"v":0.48},{"k":197,"v":-0.4},{"k":201,"v":-0.8},{"k":205,"v":0.42},{"k":209,"v":-0.35},{"k":213,"v":0.45},{"k":217,"v":-0.3},{"k":221,"v":0.5},{"k":225,"v":-0.45},{"k":229,"v":0.42},{"k":233,"v":-0.38},{"k":237,"v":0.5},{"k":241,"v":-0.4},{"k":245,"v":0.6},{"k":249,"v":-0.42},{"k":254,"v":-0.59},{"k":258,"v":0.4},{"k":262,"v":-0.35},{"k":266,"v":0.45},{"k":270,"v":-0.42},{"k":274,"v":0.38},{"k":280,"v":-0.55},{"k":284,"v":0.45},{"k":288,"v":-0.38},{"k":292,"v":0.35},{"k":296,"v":-0.45},{"k":300,"v":0.42},{"k":304,"v":-0.35},{"k":308,"v":0.48},{"k":312,"v":-0.4},{"k":316,"v":0.38},{"k":320,"v":-0.5},{"k":324,"v":0.45},{"k":328,"v":-0.35},{"k":332,"v":0.42},{"k":336,"v":-0.48},{"k":340,"v":0.4},{"k":344,"v":-0.42},{"k":348,"v":0.5},{"k":352,"v":-0.38},{"k":356,"v":0.42},{"k":360,"v":-0.65},{"k":364,"v":0.38},{"k":368,"v":-0.5},{"k":370,"v":0.45},{"k":374,"v":-0.55},{"k":378,"v":0.35},{"k":382,"v":-0.45},{"k":386,"v":0.42},{"k":390,"v":-0.35},{"k":394,"v":0.48},{"k":398,"v":-0.4},{"k":401,"v":0.38},{"k":405,"v":0.54},{"k":408,"v":0.6},{"k":411,"v":-0.42},{"k":414,"v":-0.55},{"k":418,"v":0.42},{"k":422,"v":-0.35},{"k":426,"v":0.32},{"k":430,"v":-0.28},{"k":434,"v":0.38},{"k":438,"v":-0.25},{"k":442,"v":0.45},{"k":446,"v":-0.3},{"k":450,"v":0.4},{"k":454,"v":-0.45},{"k":458,"v":0.35},{"k":462,"v":-0.5},{"k":466,"v":0.42},{"k":470,"v":-0.38},{"k":474,"v":0.4},{"k":478,"v":0.48},{"k":482,"v":-0.3},{"k":486,"v":0.4},{"k":490,"v":-0.32},{"k":494,"v":0.36},{"k":498,"v":-0.42},{"k":502,"v":0.3},{"k":506,"v":-0.25},{"k":510,"v":0.45},{"k":514,"v":-0.38},{"k":518,"v":0.7},{"k":522,"v":-0.3},{"k":526,"v":0.38},{"k":530,"v":-0.45},{"k":534,"v":0.35},{"k":538,"v":-0.28},{"k":542,"v":0.4},{"k":546,"v":-0.35},{"k":550,"v":0.45},{"k":554,"v":-0.3},{"k":558,"v":0.38},{"k":562,"v":-0.4},{"k":566,"v":0.42},{"k":570,"v":-0.32},{"k":574,"v":0.48},{"k":578,"v":-0.28},{"k":582,"v":0.42},{"k":586,"v":-0.35},{"k":590,"v":0.38},{"k":594,"v":-0.42},{"k":598,"v":0.35},{"k":602,"v":-0.4},{"k":606,"v":0.45},{"k":610,"v":-0.48},{"k":614,"v":0.42},{"k":618,"v":-0.35},{"k":622,"v":0.48},{"k":626,"v":-0.4},{"k":630,"v":0.38},{"k":634,"v":-0.5},{"k":638,"v":0.42},{"k":642,"v":-0.35},{"k":646,"v":0.45},{"k":650,"v":-0.4},{"k":654,"v":0.38},{"k":658,"v":-0.45},{"k":662,"v":0.42},{"k":666,"v":-0.3},{"k":670,"v":0.4},{"k":674,"v":-0.42},{"k":678,"v":0.36},{"k":682,"v":-0.35},{"k":686,"v":0.42},{"k":690,"v":-0.38},{"k":694,"v":0.35},{"k":698,"v":-0.42},{"k":702,"v":0.4},{"k":706,"v":-0.5},{"k":710,"v":0.42},{"k":714,"v":-0.38},{"k":718,"v":0.35},{"k":722,"v":-0.45},{"k":726,"v":0.38},{"k":730,"v":-0.35},{"k":734,"v":0.42},{"k":738,"v":-0.3},{"k":742,"v":0.35},{"k":746,"v":-0.42},{"k":750,"v":0.38},{"k":754,"v":-0.32},{"k":758,"v":0.42},{"k":762,"v":-0.38},{"k":766,"v":0.35},{"k":770,"v":-0.28},{"k":774,"v":0.4},{"k":778,"v":-0.35},{"k":782,"v":0.32},{"k":786,"v":-0.4},{"k":790,"v":0.36},{"k":794,"v":-0.3},{"k":798,"v":0.3},{"k":802,"v":-0.35},{"k":806,"v":0.38},{"k":810,"v":-0.28},{"k":814,"v":0.34},{"k":818,"v":-0.38},{"k":822,"v":0.3},{"k":826,"v":-0.3},{"k":830,"v":0.36},{"k":834,"v":-0.35},{"k":838,"v":0.32},{"k":842,"v":-0.28},{"k":846,"v":0.28},{"k":850,"v":-0.36},{"k":854,"v":0.35},{"k":858,"v":-0.3},{"k":862,"v":0.3},{"k":866,"v":-0.38},{"k":870,"v":0.34},{"k":874,"v":-0.3},{"k":878,"v":0.28},{"k":882,"v":-0.35},{"k":886,"v":0.32},{"k":890,"v":-0.28},{"k":894,"v":0.36},{"k":898,"v":-0.32},{"k":902,"v":0.3},{"k":906,"v":-0.38},{"k":910,"v":0.28},{"k":914,"v":-0.3},{"k":918,"v":0.34},{"k":922,"v":-0.35},{"k":926,"v":0.3},{"k":930,"v":-0.26},{"k":934,"v":0.28},{"k":938,"v":-0.32},{"k":942,"v":0.33},{"k":946,"v":-0.28},{"k":950,"v":0.3},{"k":954,"v":-0.34},{"k":958,"v":0.26},{"k":962,"v":-0.3},{"k":966,"v":0.32},{"k":970,"v":-0.28},{"k":974,"v":0.3},{"k":978,"v":-0.35},{"k":982,"v":0.34},{"k":986,"v":-0.3},{"k":990,"v":0.28},{"k":994,"v":-0.26},{"k":998,"v":0.32},{"k":1002,"v":-0.3},{"k":1006,"v":0.3},{"k":1010,"v":-0.34},{"k":1014,"v":0.28},{"k":1018,"v":-0.26},{"k":1022,"v":0.34},{"k":1026,"v":-0.3},{"k":1030,"v":0.35},{"k":1034,"v":-0.32},{"k":1037,"v":0.67},{"k":1041,"v":-0.28},{"k":1045,"v":0.34},{"k":1049,"v":-0.3},{"k":1053,"v":0.32},{"k":1057,"v":-0.28},{"k":1061,"v":0.3},{"k":1065,"v":-0.35},{"k":1069,"v":0.34},{"k":1073,"v":-0.3},{"k":1077,"v":0.32},{"k":1081,"v":-0.26},{"k":1085,"v":0.36},{"k":1089,"v":-0.3},{"k":1093,"v":0.34},{"k":1097,"v":-0.38},{"k":1101,"v":0.3},{"k":1105,"v":-0.28},{"k":1109,"v":0.38},{"k":1113,"v":-0.32},{"k":1117,"v":0.36},{"k":1121,"v":-0.4},{"k":1125,"v":0.34},{"k":1129,"v":-0.3},{"k":1133,"v":0.42},{"k":1137,"v":-0.35},{"k":1141,"v":0.38},{"k":1145,"v":-0.28},{"k":1149,"v":0.4},{"k":1153,"v":-0.38},{"k":1157,"v":0.45},{"k":1161,"v":-0.32},{"k":1165,"v":0.38},{"k":1169,"v":-0.42},{"k":1173,"v":0.4},{"k":1177,"v":-0.3},{"k":1181,"v":0.42},{"k":1185,"v":-0.36},{"k":1189,"v":0.48},{"k":1193,"v":-0.3},{"k":1197,"v":0.4},{"k":1201,"v":-0.42},{"k":1205,"v":0.45},{"k":1209,"v":-0.3},{"k":1213,"v":0.5},{"k":1217,"v":-0.35},{"k":1221,"v":0.42},{"k":1225,"v":-0.4},{"k":1229,"v":0.55},{"k":1233,"v":-0.32},{"k":1237,"v":0.48},{"k":1241,"v":-0.38},{"k":1245,"v":0.45},{"k":1249,"v":-0.42},{"k":1253,"v":0.55},{"k":1257,"v":-0.35},{"k":1261,"v":0.6},{"k":1265,"v":-0.4},{"k":1269,"v":0.5},{"k":1273,"v":-0.3},{"k":1277,"v":0.52},{"k":1281,"v":-0.42},{"k":1285,"v":0.58},{"k":1289,"v":-0.38},{"k":1293,"v":0.5},{"k":1297,"v":-0.4},{"k":1301,"v":0.62},{"k":1305,"v":-0.35},{"k":1309,"v":0.55},{"k":1313,"v":-0.45},{"k":1317,"v":0.7},{"k":1321,"v":-0.38},{"k":1325,"v":0.6},{"k":1329,"v":-0.42},{"k":1333,"v":1},{"k":1337,"v":-0.35},{"k":1341,"v":0.65},{"k":1345,"v":-0.45},{"k":1349,"v":0.55},{"k":1353,"v":-0.35},{"k":1357,"v":0.62},{"k":1361,"v":-0.42},{"k":1365,"v":0.5},{"k":1369,"v":-0.38},{"k":1373,"v":0.58},{"k":1377,"v":-0.45},{"k":1381,"v":0.52},{"k":1385,"v":-0.38},{"k":1389,"v":0.6},{"k":1393,"v":-0.42},{"k":1397,"v":0.5},{"k":1401,"v":-0.35},{"k":1405,"v":0.55},{"k":1409,"v":-0.4},{"k":1413,"v":0.48},{"k":1417,"v":-0.32},{"k":1421,"v":0.62},{"k":1425,"v":-0.38},{"k":1429,"v":0.5},{"k":1433,"v":-0.42},{"k":1437,"v":0.55},{"k":1441,"v":-0.35},{"k":1445,"v":0.48},{"k":1449,"v":-0.4},{"k":1453,"v":0.42},{"k":1457,"v":-0.32},{"k":1461,"v":0.55},{"k":1465,"v":-0.38},{"k":1469,"v":0.5},{"k":1473,"v":-0.42},{"k":1477,"v":0.45},{"k":1481,"v":-0.35},{"k":1485,"v":0.62},{"k":1489,"v":-0.4},{"k":1493,"v":0.42},{"k":1497,"v":-0.3},{"k":1501,"v":0.5},{"k":1505,"v":-0.38},{"k":1509,"v":0.45},{"k":1513,"v":-0.32},{"k":1517,"v":0.55},{"k":1521,"v":0.6},{"k":1525,"v":-0.35},{"k":1529,"v":0.42},{"k":1533,"v":-0.3},{"k":1537,"v":0.48},{"k":1541,"v":-0.4},{"k":1545,"v":0.38},{"k":1549,"v":-0.35},{"k":1553,"v":0.45},{"k":1556,"v":-0.73},{"k":1560,"v":0.6},{"k":1564,"v":0.55},{"k":1568,"v":-0.3},{"k":1572,"v":0.65},{"k":1576,"v":-0.38},{"k":1580,"v":0.72},{"k":1584,"v":-0.3},{"k":1588,"v":0.45},{"k":1592,"v":-0.35},{"k":1596,"v":0.4},{"k":1600,"v":-0.28},{"k":1604,"v":0.42},{"k":1608,"v":-0.35},{"k":1612,"v":0.45},{"k":1616,"v":0.38},{"k":1620,"v":-0.42},{"k":1624,"v":0.35},{"k":1628,"v":-0.55},{"k":1632,"v":0.3},{"k":1637,"v":-0.45},{"k":1641,"v":-0.72},{"k":1645,"v":0.32},{"k":1649,"v":-0.38},{"k":1653,"v":-0.55},{"k":1657,"v":0.25},{"k":1661,"v":-0.58},{"k":1665,"v":0.3},{"k":1669,"v":0.42},{"k":1673,"v":0.38},{"k":1677,"v":0.45},{"k":1681,"v":-0.3},{"k":1685,"v":0.48},{"k":1689,"v":0.4},{"k":1693,"v":-0.35},{"k":1697,"v":0.42},{"k":1701,"v":-0.4},{"k":1705,"v":0.45},{"k":1709,"v":-0.48},{"k":1713,"v":0.38},{"k":1717,"v":-0.4},{"k":1721,"v":0.42},{"k":1727,"v":0.48},{"k":1731,"v":-0.5},{"k":1735,"v":0.42},{"k":1739,"v":-0.38},{"k":1743,"v":0.35},{"k":1747,"v":-0.45},{"k":1751,"v":0.72},{"k":1755,"v":-0.35},{"k":1759,"v":0.42},{"k":1763,"v":-0.3},{"k":1767,"v":0.38},{"k":1771,"v":-0.5},{"k":1775,"v":0.45},{"k":1779,"v":-0.38},{"k":1783,"v":0.42},{"k":1788,"v":0.81},{"k":1792,"v":-0.42},{"k":1796,"v":0.5},{"k":1800,"v":-0.45},{"k":1804,"v":0.48},{"k":1808,"v":-0.38},{"k":1811,"v":-0.49},{"k":1815,"v":0.52},{"k":1819,"v":-0.3},{"k":1823,"v":0.45},{"k":1827,"v":-0.35},{"k":1831,"v":0.42},{"k":1835,"v":-0.28},{"k":1839,"v":0.5},{"k":1843,"v":-0.38},{"k":1847,"v":0.45},{"k":1851,"v":-0.3},{"k":1855,"v":0.48},{"k":1859,"v":-0.42},{"k":1863,"v":0.5},{"k":1867,"v":-0.35},{"k":1871,"v":0.45},{"k":1875,"v":-0.48},{"k":1879,"v":0.55},{"k":1883,"v":-0.35},{"k":1887,"v":0.5},{"k":1890,"v":-0.69},{"k":1894,"v":0.45},{"k":1898,"v":-0.38},{"k":1902,"v":0.55},{"k":1906,"v":-0.3},{"k":1910,"v":0.48},{"k":1914,"v":-0.45},{"k":1918,"v":0.42},{"k":1922,"v":-0.55},{"k":1926,"v":0.38},{"k":1930,"v":-0.3},{"k":1934,"v":0.4},{"k":1938,"v":-0.58},{"k":1942,"v":0.35},{"k":1946,"v":-0.42},{"k":1950,"v":0.36},{"k":1954,"v":-0.3},{"k":1958,"v":0.38},{"k":1962,"v":-0.45},{"k":1966,"v":0.42},{"k":1970,"v":-0.3},{"k":1974,"v":0.35},{"k":1978,"v":-0.42},{"k":1982,"v":0.4},{"k":1985,"v":-0.35},{"k":1988,"v":-0.78},{"k":1992,"v":0.35},{"k":1996,"v":-0.3},{"k":2000,"v":0.38},{"k":2004,"v":-0.42},{"k":2008,"v":0.35},{"k":2012,"v":-0.3},{"k":2016,"v":0.45},{"k":2020,"v":-0.35},{"k":2024,"v":0.42},{"k":2028,"v":-0.28},{"k":2032,"v":0.48},{"k":2036,"v":-0.38},{"k":2040,"v":0.55},{"k":2044,"v":-0.3},{"k":2047,"v":0.6},{"k":2050,"v":-0.7},{"k":2052,"v":0.4}]
},
"layer":[
{"data":{"name":"ticks"},"mark":{"type":"arc","stroke":"#000000","strokeWidth":1.4},"encoding":{"theta":{"field":"data","type":"quantitative","scale":{"domain":[0,2054],"range":[0,6.28319]}},"theta2":{"field":"data"},"radius":{"datum":986,"type":"quantitative","scale":{"type":"linear","domain":[0,1500],"range":[0,1500]}},"radius2":{"datum":977}}},
{"data":{"name":"labels"},"mark":{"type":"arc","stroke":"#000000","strokeWidth":1.8},"encoding":{"theta":{"field":"k","type":"quantitative","scale":{"domain":[0,2054],"range":[0,6.28319]}},"theta2":{"field":"k"},"radius":{"datum":997,"type":"quantitative","scale":{"type":"linear","domain":[0,1500],"range":[0,1500]}},"radius2":{"datum":977}}},
{"data":{"name":"labels"},"transform":[{"filter":"datum.k<=1000"}],"mark":{"type":"text","font":"Liberation Sans","fontSize":43,"align":"left","baseline":"middle","color":"#000000"},"encoding":{"theta":{"field":"k","type":"quantitative","scale":{"domain":[0,2054],"range":[0,6.28319]}},"radius":{"datum":1001,"type":"quantitative","scale":{"type":"linear","domain":[0,1500],"range":[0,1500]}},"angle":{"field":"k","type":"quantitative","scale":{"domain":[0,2054],"range":[-90,270]},"legend":null},"text":{"field":"t"}}},
{"data":{"name":"labels"},"transform":[{"filter":"datum.k>1000"}],"mark":{"type":"text","font":"Liberation Sans","fontSize":43,"align":"right","baseline":"middle","color":"#000000"},"encoding":{"theta":{"field":"k","type":"quantitative","scale":{"domain":[0,2054],"range":[0,6.28319]}},"radius":{"datum":1001,"type":"quantitative","scale":{"type":"linear","domain":[0,1500],"range":[0,1500]}},"angle":{"field":"k","type":"quantitative","scale":{"domain":[0,2054],"range":[90,450]},"legend":null},"text":{"field":"t"}}},
{"data":{"name":"band"},"mark":{"type":"arc","stroke":"#000000","strokeWidth":1},"encoding":{"theta":{"field":"s","type":"quantitative","scale":{"domain":[0,2054],"range":[0,6.28319]}},"theta2":{"field":"e"},"radius":{"datum":977,"type":"quantitative","scale":{"type":"linear","domain":[0,1500],"range":[0,1500]}},"radius2":{"datum":926},"color":{"field":"c","type":"nominal","scale":{"domain":["k","d","g","l"],"range":["#000000","#636363","#bdbdbd","#f0f0f0"]},"legend":null}}},
{"data":{"name":"stripes"},"mark":{"type":"arc","fill":"#f0f0f0"},"encoding":{"theta":{"field":"s","type":"quantitative","scale":{"domain":[0,2054],"range":[0,6.28319]}},"theta2":{"field":"e"},"radius":{"datum":976,"type":"quantitative","scale":{"type":"linear","domain":[0,1500],"range":[0,1500]}},"radius2":{"datum":927}}},
{"data":{"name":"geneF"},"mark":{"type":"arc","fill":"#a6a6a6"},"encoding":{"theta":{"field":"s","type":"quantitative","scale":{"domain":[0,2054],"range":[0,6.28319]}},"theta2":{"field":"e"},"radius":{"datum":908,"type":"quantitative","scale":{"type":"linear","domain":[0,1500],"range":[0,1500]}},"radius2":{"datum":888}}},
{"data":{"name":"geneR"},"mark":{"type":"arc","fill":"#a6a6a6"},"encoding":{"theta":{"field":"s","type":"quantitative","scale":{"domain":[0,2054],"range":[0,6.28319]}},"theta2":{"field":"e"},"radius":{"datum":888,"type":"quantitative","scale":{"type":"linear","domain":[0,1500],"range":[0,1500]}},"radius2":{"datum":865}}},
{"data":{"name":"geneGap"},"mark":{"type":"arc","stroke":"#ffffff","strokeWidth":1.6},"encoding":{"theta":{"field":"data","type":"quantitative","scale":{"domain":[0,2054],"range":[0,6.28319]}},"theta2":{"field":"data"},"radius":{"datum":908,"type":"quantitative","scale":{"type":"linear","domain":[0,1500],"range":[0,1500]}},"radius2":{"datum":865}}},
{"data":{"name":"geneRedF"},"mark":{"type":"arc","fill":"#fb6a4a"},"encoding":{"theta":{"field":"s","type":"quantitative","scale":{"domain":[0,2054],"range":[0,6.28319]}},"theta2":{"field":"e"},"radius":{"datum":908,"type":"quantitative","scale":{"type":"linear","domain":[0,1500],"range":[0,1500]}},"radius2":{"datum":888}}},
{"data":{"name":"geneRedR"},"mark":{"type":"arc","fill":"#fb6a4a"},"encoding":{"theta":{"field":"s","type":"quantitative","scale":{"domain":[0,2054],"range":[0,6.28319]}},"theta2":{"field":"e"},"radius":{"datum":888,"type":"quantitative","scale":{"type":"linear","domain":[0,1500],"range":[0,1500]}},"radius2":{"datum":865}}},
{"data":{"name":"blue"},"mark":{"type":"arc","fill":"#08407f"},"encoding":{"theta":{"field":"s","type":"quantitative","scale":{"domain":[0,2054],"range":[0,6.28319]}},"theta2":{"field":"e"},"radius":{"datum":852,"type":"quantitative","scale":{"type":"linear","domain":[0,1500],"range":[0,1500]}},"radius2":{"datum":813}}},
{"data":{"name":"blue2"},"mark":{"type":"arc","fill":"#0868ac"},"encoding":{"theta":{"field":"s","type":"quantitative","scale":{"domain":[0,2054],"range":[0,6.28319]}},"theta2":{"field":"e"},"radius":{"datum":852,"type":"quantitative","scale":{"type":"linear","domain":[0,1500],"range":[0,1500]}},"radius2":{"datum":813}}},
{"data":{"name":"gc"},"mark":{"type":"arc","strokeWidth":2.2},"encoding":{"theta":{"field":"k","type":"quantitative","scale":{"domain":[0,2054],"range":[0,6.28319]}},"theta2":{"field":"k"},"radius":{"field":"v","type":"quantitative","scale":{"type":"linear","domain":[-1,1],"range":[547,767]}},"radius2":{"datum":0},"stroke":{"condition":{"test":"datum.v>0","value":"#6baed6"},"value":"#fb6a4a"}}},
{"data":{"name":"gc"},"mark":{"type":"arc","strokeWidth":3.4},"encoding":{"theta":{"field":"k","type":"quantitative","scale":{"domain":[0,2054],"range":[0,6.28319]}},"theta2":{"field":"k"},"radius":{"field":"v","type":"quantitative","scale":{"type":"linear","domain":[-1,1],"range":[574.5,739.5]}},"radius2":{"datum":0},"stroke":{"condition":{"test":"datum.v>0","value":"#6baed6"},"value":"#fb6a4a"}}},
{"data":{"name":"gc"},"mark":{"type":"arc","strokeWidth":6},"encoding":{"theta":{"field":"k","type":"quantitative","scale":{"domain":[0,2054],"range":[0,6.28319]}},"theta2":{"field":"k"},"radius":{"field":"v","type":"quantitative","scale":{"type":"linear","domain":[-1,1],"range":[593,721]}},"radius2":{"datum":0},"stroke":{"condition":{"test":"datum.v>0","value":"#9ecae1"},"value":"#fc9272"}}},
{"data":{"name":"gcFill"},"mark":{"type":"arc"},"encoding":{"theta":{"field":"s","type":"quantitative","scale":{"domain":[0,2054],"range":[0,6.28319]}},"theta2":{"field":"e"},"radius":{"field":"v","type":"quantitative","scale":{"type":"linear","domain":[-1,1],"range":[547,767]}},"radius2":{"datum":0},"fill":{"condition":{"test":"datum.v>0","value":"#9ecae1"},"value":"#fc9272"}}},
{"data":{"name":"gcBlack"},"mark":{"type":"arc","stroke":"#000000","strokeWidth":2},"encoding":{"theta":{"field":"k","type":"quantitative","scale":{"domain":[0,2054],"range":[0,6.28319]}},"theta2":{"field":"k"},"radius":{"field":"a","type":"quantitative","scale":{"type":"linear","domain":[-1,1],"range":[547,767]}},"radius2":{"field":"b"}}},
{"data":{"name":"inner"},"mark":{"type":"arc","strokeWidth":2.2},"encoding":{"theta":{"field":"k","type":"quantitative","scale":{"domain":[0,2054],"range":[0,6.28319]}},"theta2":{"field":"k"},"radius":{"field":"v","type":"quantitative","scale":{"type":"linear","domain":[-1,1],"range":[298,558]}},"radius2":{"datum":0},"stroke":{"condition":{"test":"datum.v>0","value":"#6baed6"},"value":"#74c476"}}},
{"data":{"name":"inner"},"mark":{"type":"arc","strokeWidth":3.4},"encoding":{"theta":{"field":"k","type":"quantitative","scale":{"domain":[0,2054],"range":[0,6.28319]}},"theta2":{"field":"k"},"radius":{"field":"v","type":"quantitative","scale":{"type":"linear","domain":[-1,1],"range":[350,506]}},"radius2":{"datum":0},"stroke":{"condition":{"test":"datum.v>0","value":"#6baed6"},"value":"#74c476"}}},
{"data":{"name":"inFill"},"mark":{"type":"arc"},"encoding":{"theta":{"field":"s","type":"quantitative","scale":{"domain":[0,2054],"range":[0,6.28319]}},"theta2":{"field":"e"},"radius":{"field":"v","type":"quantitative","scale":{"type":"linear","domain":[-1,1],"range":[298,558]}},"radius2":{"datum":0},"fill":{"condition":{"test":"datum.v>0","value":"#9ecae1"},"value":"#a1d99b"}}}
]}
